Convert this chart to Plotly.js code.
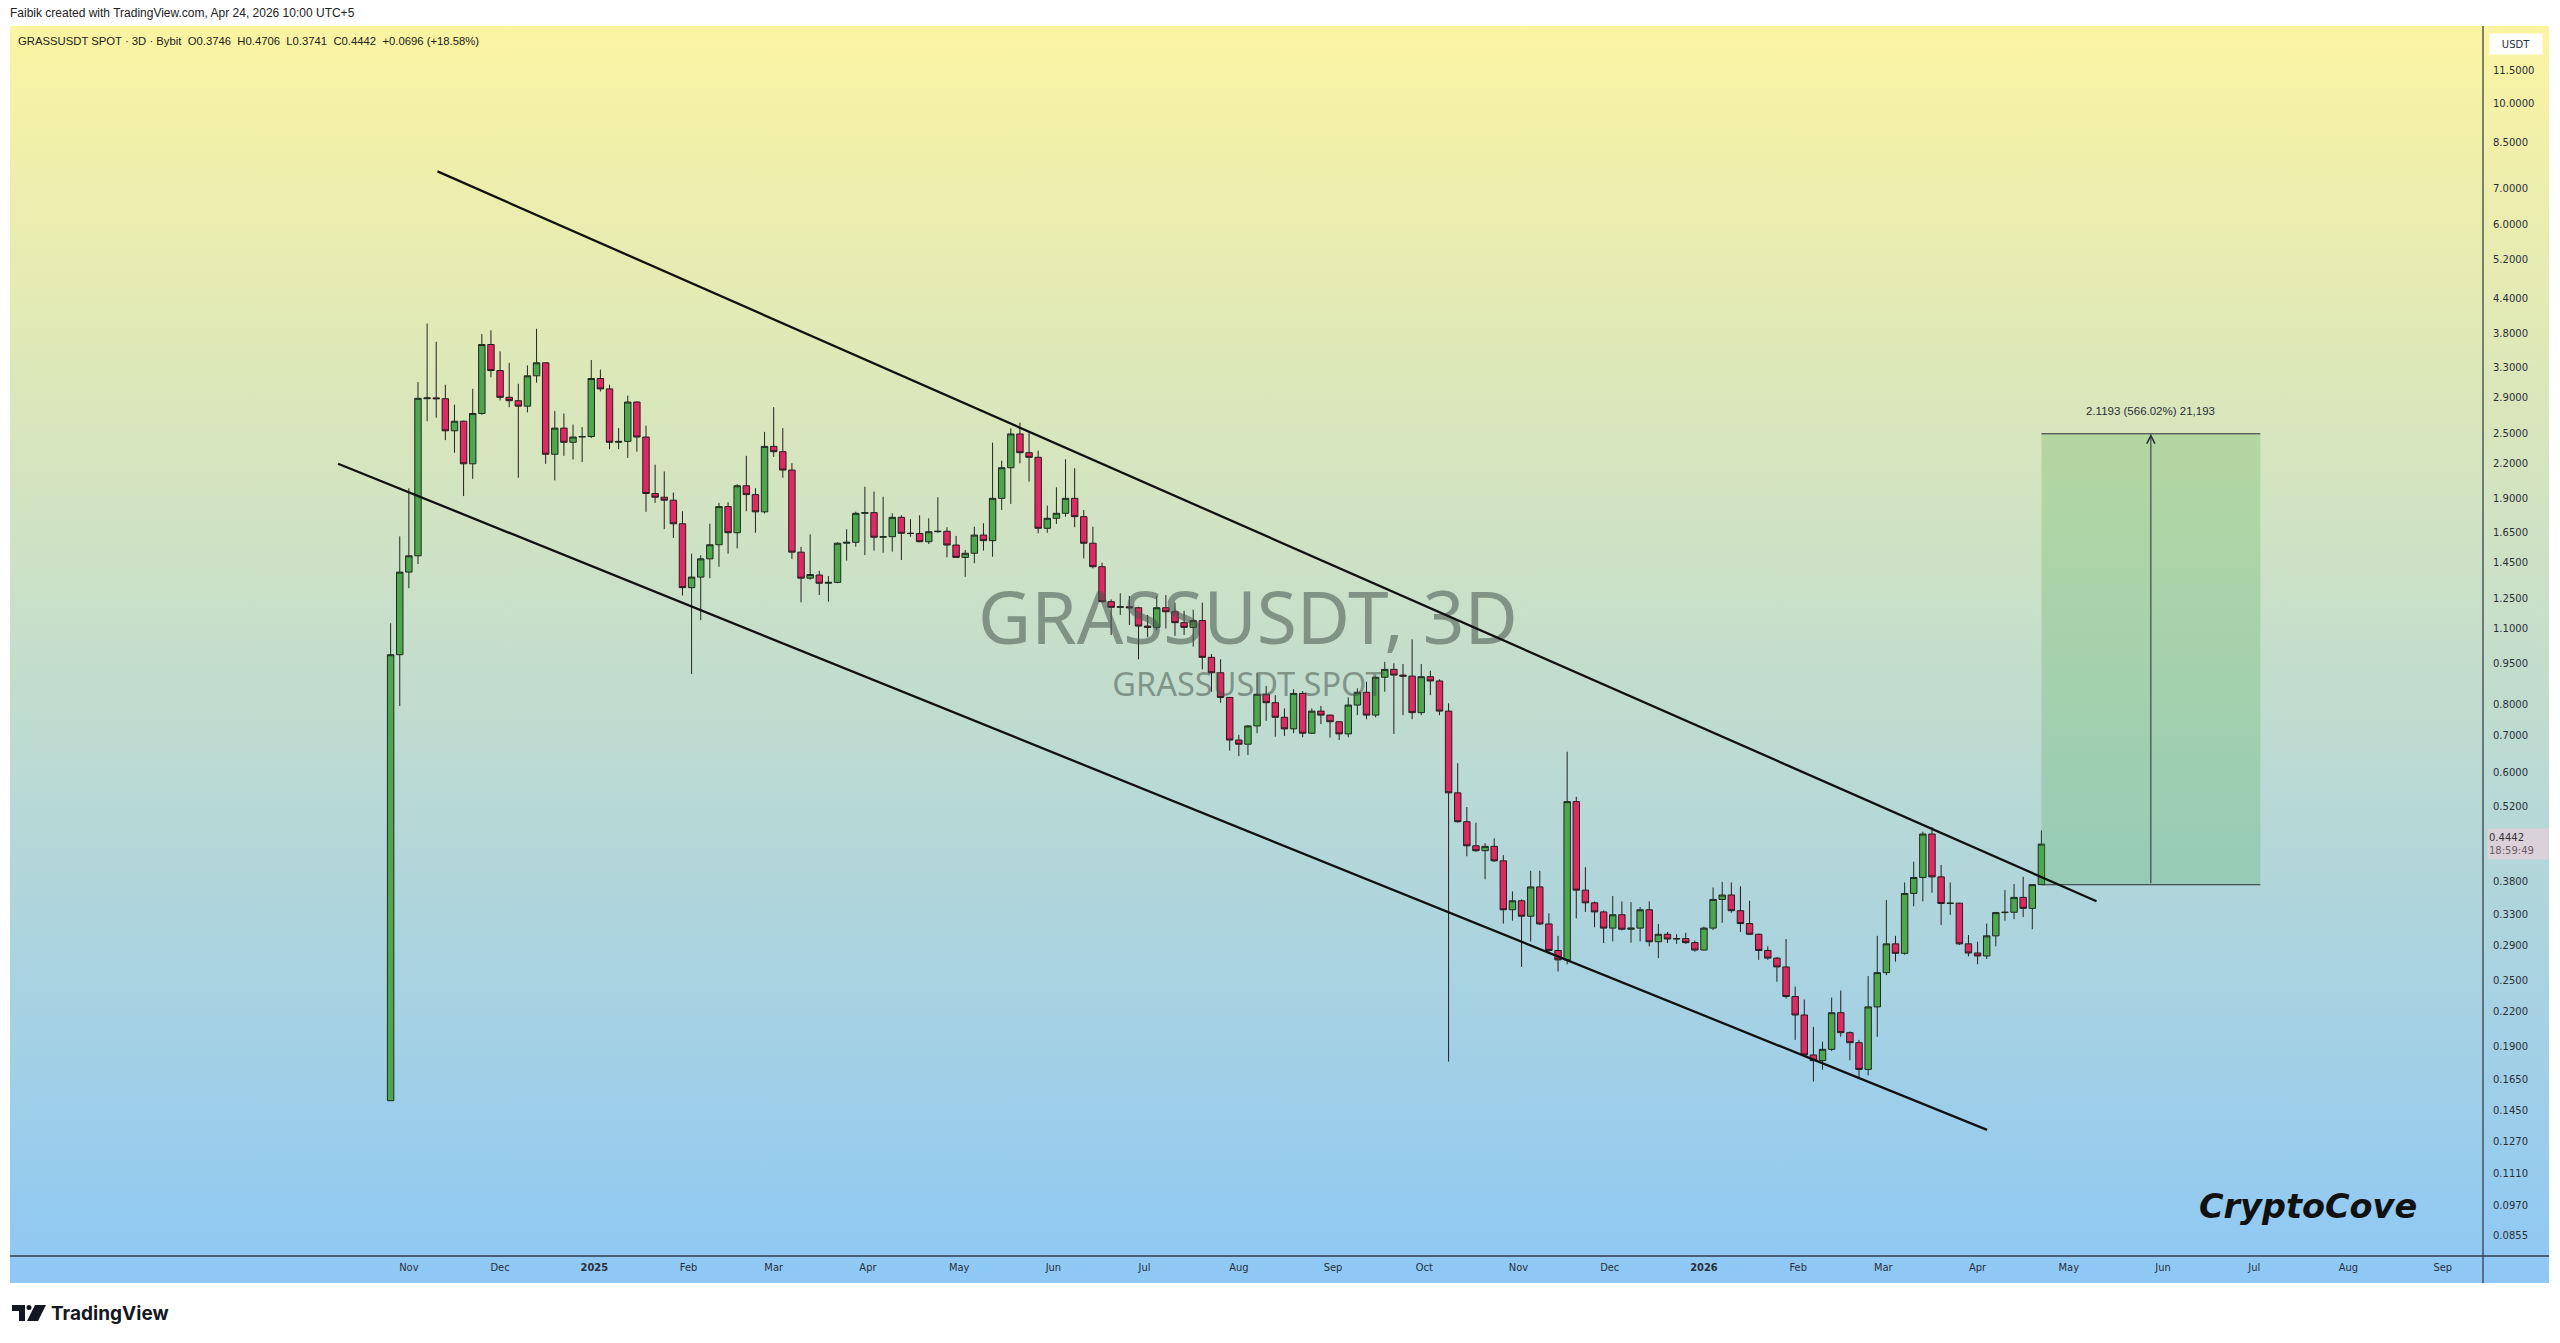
<!DOCTYPE html>
<html><head><meta charset="utf-8">
<script src="https://cdn.plot.ly/plotly-3.0.1.min.js"></script>
<style>
html,body{margin:0;padding:0;background:#fff;width:2560px;height:1343px;overflow:hidden}
#bg{position:absolute;left:10px;top:26px;width:2539px;height:1257px;background:linear-gradient(to bottom,#fbf4a2 0%,#8ec8f5 100%)}
#chart{position:absolute;left:0;top:0;width:2560px;height:1343px}
</style></head><body>
<div id="bg"></div><div id="chart"></div>
<script>
// ---------- DATA (3D candles, GRASSUSDT SPOT, Bybit) ----------
const firstCandleDate = '2024-10-26';
const candleStepDays = 3;

const opens = [0.151,0.985,1.394,1.493,2.89,2.90,2.89,2.525,2.629,2.198,
2.716,3.630,3.253,2.907,2.866,2.801,3.182,3.361,2.288,2.554,
2.406,2.460,2.465,3.146,3.012,2.406,2.415,2.850,2.460,1.940,
1.910,1.886,1.708,1.306,1.365,1.474,1.564,1.836,1.645,2.004,
1.931,1.796,2.365,2.313,2.141,1.516,1.359,1.377,1.330,1.335,
1.574,1.58,1.785,1.79,1.614,1.618,1.755,1.641,1.64,1.584,
1.652,1.655,1.562,1.483,1.509,1.629,1.591,1.901,2.162,2.492,
2.303,2.259,1.676,1.748,1.785,1.901,1.760,1.574,1.426,1.231,
1.202,1.205,1.20,1.111,1.105,1.200,1.180,1.127,1.105,1.137,
0.974,0.913,0.823,0.688,0.676,0.730,0.834,0.805,0.757,0.721,
0.837,0.708,0.777,0.764,0.743,0.706,0.797,0.841,0.764,0.896,
0.926,0.904,0.90,0.772,0.898,0.882,0.777,0.551,0.488,0.441,
0.432,0.440,0.414,0.337,0.350,0.328,0.371,0.3175,0.284,0.273,
0.531,0.366,0.347,0.334,0.312,0.330,0.3105,0.312,0.337,0.2946,
0.304,0.298,0.2985,0.2935,0.2845,0.312,0.352,0.3586,0.3357,0.318,
0.304,0.284,0.275,0.265,0.234,0.2165,0.183,0.1787,0.1874,0.2186,
0.201,0.1927,0.1722,0.224,0.2587,0.292,0.2806,0.361,0.386,0.4634,
0.387,0.346,0.3465,0.292,0.281,0.2775,0.302,0.333,0.3335,0.355,
0.339,0.3746];

const highs = [1.124,1.620,1.983,3.099,3.964,3.672,3.065,2.819,2.635,3.012,
3.794,3.853,3.527,3.361,3.078,3.324,3.878,3.37,2.746,2.716,
2.593,2.565,3.400,3.267,3.065,2.554,2.927,2.86,2.58,2.190,
2.128,1.948,1.80,1.506,1.497,1.708,1.865,1.87,2.018,2.273,
1.983,2.514,2.789,2.554,2.203,1.550,1.634,1.402,1.371,1.58,
1.669,1.797,1.996,1.955,1.914,1.785,1.77,1.741,1.77,1.748,
1.910,1.683,1.623,1.53,1.687,1.712,2.403,2.227,2.552,2.613,
2.506,2.323,1.843,1.991,2.240,2.157,1.810,1.687,1.450,1.243,
1.275,1.261,1.205,1.164,1.261,1.266,1.226,1.185,1.19,1.226,
0.988,0.966,0.825,0.703,0.733,0.913,0.864,0.831,0.786,0.852,
0.845,0.786,0.794,0.766,0.745,0.823,0.855,0.879,0.90,0.956,
0.95,0.947,1.051,0.947,0.921,0.888,0.803,0.624,0.519,0.486,
0.446,0.455,0.424,0.364,0.352,0.397,0.397,0.332,0.302,0.655,
0.542,0.403,0.349,0.336,0.357,0.349,0.348,0.341,0.349,0.3175,
0.307,0.304,0.306,0.296,0.314,0.370,0.379,0.378,0.372,0.350,
0.305,0.289,0.276,0.298,0.244,0.231,0.206,0.1935,0.233,0.240,
0.202,0.195,0.255,0.302,0.351,0.302,0.378,0.4125,0.468,0.477,
0.407,0.378,0.347,0.303,0.2946,0.318,0.334,0.366,0.3755,0.387,
0.3755,0.4706];

const lows = [0.151,0.794,1.303,1.442,2.629,2.668,2.428,2.303,1.919,2.063,
2.70,3.161,2.870,2.789,2.073,2.729,3.092,2.198,2.050,2.273,
2.238,2.214,2.45,2.979,2.338,2.338,2.253,2.313,1.796,1.865,
1.670,1.609,1.263,0.908,1.139,1.359,1.426,1.506,1.540,1.80,
1.645,1.784,2.263,2.073,1.474,1.228,1.35,1.266,1.231,1.33,
1.463,1.551,1.498,1.526,1.512,1.519,1.467,1.618,1.58,1.569,
1.645,1.483,1.48,1.367,1.447,1.526,1.487,1.810,1.857,2.202,
2.039,1.641,1.645,1.707,1.760,1.683,1.477,1.416,1.226,1.070,
1.164,1.116,0.966,1.060,1.090,1.10,1.066,1.07,1.019,0.926,
0.843,0.805,0.658,0.643,0.646,0.708,0.746,0.698,0.700,0.708,
0.696,0.706,0.736,0.695,0.688,0.696,0.764,0.751,0.757,0.843,
0.706,0.764,0.751,0.764,0.831,0.764,0.178,0.486,0.422,0.43,
0.383,0.412,0.318,0.322,0.265,0.295,0.316,0.280,0.260,0.268,
0.325,0.334,0.313,0.293,0.295,0.309,0.2935,0.295,0.289,0.275,
0.293,0.292,0.292,0.2825,0.284,0.3095,0.319,0.333,0.307,0.303,
0.273,0.273,0.249,0.232,0.195,0.182,0.1636,0.172,0.186,0.1976,
0.179,0.166,0.168,0.1976,0.256,0.271,0.279,0.342,0.349,0.362,
0.316,0.330,0.2906,0.277,0.268,0.274,0.289,0.322,0.324,0.327,
0.3105,0.3741];

const closes = [0.985,1.394,1.493,2.895,2.90,2.89,2.525,2.629,2.198,2.716,
3.630,3.253,2.907,2.866,2.801,3.182,3.361,2.288,2.554,2.406,
2.460,2.465,3.146,3.012,2.406,2.415,2.850,2.460,1.940,1.910,
1.886,1.708,1.306,1.365,1.474,1.564,1.836,1.645,2.004,1.931,
1.796,2.365,2.313,2.141,1.516,1.359,1.380,1.330,1.335,1.574,
1.58,1.785,1.79,1.614,1.618,1.755,1.641,1.64,1.584,1.652,
1.655,1.562,1.483,1.509,1.629,1.591,1.901,2.162,2.492,2.303,
2.259,1.676,1.748,1.785,1.901,1.760,1.574,1.426,1.231,1.202,
1.205,1.20,1.111,1.105,1.200,1.180,1.127,1.105,1.137,0.974,
0.913,0.823,0.688,0.676,0.730,0.834,0.805,0.757,0.721,0.837,
0.708,0.777,0.764,0.743,0.706,0.797,0.841,0.764,0.896,0.926,
0.904,0.90,0.772,0.898,0.882,0.777,0.551,0.488,0.441,0.432,
0.440,0.414,0.337,0.350,0.328,0.371,0.3175,0.284,0.273,0.531,
0.366,0.347,0.334,0.312,0.330,0.3105,0.312,0.337,0.2946,0.304,
0.298,0.2985,0.2935,0.2845,0.312,0.352,0.3586,0.3357,0.318,0.304,
0.284,0.275,0.265,0.234,0.2165,0.183,0.1787,0.1874,0.2186,0.201,
0.1927,0.1722,0.224,0.2587,0.292,0.2806,0.361,0.386,0.4634,0.387,
0.346,0.3465,0.292,0.281,0.2775,0.302,0.333,0.3335,0.355,0.339,
0.3746,0.4442];

// channel trend lines [start, end]
const upperLineDates = ['2024-11-10 10:00', '2026-05-10 03:00'];
const upperLinePrices = [7.516, 0.3492];
const lowerLineDates = ['2024-10-08 17:00', '2026-04-04 03:00'];
const lowerLinePrices = [2.199, 0.1336];

// price range measurement
const rangeDates = ['2026-04-22', '2026-07-03'];
const rangeMidDate = '2026-05-28';
const rangeLow = 0.3744, rangeHigh = 2.4937;
const rangeLabel = '2.1193 (566.02%) 21,193';

// axis ticks
const priceTicks = [0.0855,0.097,0.111,0.127,0.145,0.165,0.19,0.22,0.25,0.29,0.33,0.38,0.52,0.6,0.7,0.8,0.95,1.1,1.25,1.45,1.65,1.9,2.2,2.5,2.9,3.3,3.8,4.4,5.2,6,7,8.5,10,11.5];
const monthTickDates = ['2024-11-01','2024-12-01','2025-01-01','2025-02-01','2025-03-01','2025-04-01','2025-05-01','2025-06-01','2025-07-01','2025-08-01','2025-09-01','2025-10-01','2025-11-01','2025-12-01','2026-01-01','2026-02-01','2026-03-01','2026-04-01','2026-05-01','2026-06-01','2026-07-01','2026-08-01','2026-09-01'];
const monthTickLabels = ['Nov','Dec','<b>2025</b>','Feb','Mar','Apr','May','Jun','Jul','Aug','Sep','Oct','Nov','Dec','<b>2026</b>','Feb','Mar','Apr','May','Jun','Jul','Aug','Sep'];

const countdown = '18:59:49';
const headerText = 'Faibik created with TradingView.com, Apr 24, 2026 10:00 UTC+5';
const watermarkDate = '2025-08-04';
const watermarkPrices = [1.112, 0.856];
const watermarkTexts = ['GRASSUSDT, 3D', 'GRASSUSDT SPOT'];

// ---------- BUILD ----------
const dates = opens.map((_, i) => {
  const d = new Date(Date.parse(firstCandleDate + 'T00:00:00Z') + i * candleStepDays * 86400000);
  return d.toISOString().slice(0, 10);
});

const PLOT_L = 10, PLOT_R = 2483, PLOT_T = 26, PLOT_B = 1256;
const PX = x => (x - PLOT_L) / (PLOT_R - PLOT_L);
const PY = y => (PLOT_B - y) / (PLOT_B - PLOT_T);
const log = Math.log10;
const NB = '\u00a0';

const n = closes.length;
const lastO = opens[n-1], lastH = highs[n-1], lastL = lows[n-1], lastC = closes[n-1], prevC = closes[n-2];
const chg = lastC - prevC;
const legendText = 'GRASSUSDT SPOT · 3D · Bybit' + NB + NB + 'O' + lastO.toFixed(4) + NB + NB + 'H' + lastH.toFixed(4) + NB + NB + 'L' + lastL.toFixed(4) + NB + NB + 'C' + lastC.toFixed(4) + NB + NB + '+' + chg.toFixed(4) + ' (+' + (chg / prevC * 100).toFixed(2) + '%)';

const traces = [
  {
    type: 'scatter', mode: 'text', x: [watermarkDate, watermarkDate], y: watermarkPrices,
    text: watermarkTexts, textposition: 'middle center', cliponaxis: false, hoverinfo: 'skip',
    textfont: {family: 'Noto Sans, Open Sans, sans-serif', size: [73, 32.5], color: 'rgba(70,84,76,0.55)'},
    showlegend: false
  },
  {
    type: 'scatter', mode: 'lines', x: [rangeDates[0], rangeDates[1], rangeDates[1], rangeDates[0], rangeDates[0]],
    y: [rangeLow, rangeLow, rangeHigh, rangeHigh, rangeLow], fill: 'toself',
    fillcolor: 'rgba(76,175,80,0.26)', line: {width: 0}, hoverinfo: 'skip', showlegend: false
  },
  {
    type: 'scatter', mode: 'lines', x: [rangeDates[0], rangeDates[1], null, rangeDates[0], rangeDates[1]],
    y: [rangeHigh, rangeHigh, null, rangeLow, rangeLow], line: {color: '#2a2e39', width: 1},
    hoverinfo: 'skip', showlegend: false
  },
  {
    type: 'candlestick', x: dates, open: opens, high: highs, low: lows, close: closes,
    increasing: {line: {color: '#1f2a20', width: 1}, fillcolor: '#4ea64f'},
    decreasing: {line: {color: '#2a1c20', width: 1}, fillcolor: '#dc2a62'},
    whiskerwidth: 0, hoverinfo: 'skip', showlegend: false
  },
  {
    type: 'scatter', mode: 'lines',
    x: [upperLineDates[0], upperLineDates[1], null, lowerLineDates[0], lowerLineDates[1]],
    y: [upperLinePrices[0], upperLinePrices[1], null, lowerLinePrices[0], lowerLinePrices[1]],
    line: {color: '#111111', width: 2.3}, hoverinfo: 'skip', showlegend: false, cliponaxis: false
  }
];

const logoT = [[12,1305],[25,1305],[25,1321],[19,1321],[19,1311],[12,1311]];
const logoS = [[35,1305],[46,1305],[38,1321],[27,1321]];
const toPath = pts => 'M' + pts.map(p => PX(p[0]) + ',' + PY(p[1])).join(' L') + ' Z';

const layout = {
  width: 2560, height: 1343,
  margin: {l: PLOT_L, r: 2560 - PLOT_R, t: PLOT_T, b: 1343 - PLOT_B, pad: 0},
  paper_bgcolor: 'rgba(0,0,0,0)', plot_bgcolor: 'rgba(0,0,0,0)',
  font: {family: 'DejaVu Sans, sans-serif', color: '#2a2e39'},
  showlegend: false,
  boxgap: 0.15, boxgroupgap: 0.17,
  xaxis: {
    type: 'date', range: ['2024-06-22 19:12', '2026-09-14 06:00'],
    rangeslider: {visible: false}, showgrid: false, zeroline: false, showline: false,
    tickmode: 'array', tickvals: monthTickDates, ticktext: monthTickLabels, ticks: '',
    tickfont: {family: 'DejaVu Sans Condensed, Liberation Sans Narrow, DejaVu Sans, sans-serif', size: 11, color: '#2a2e39'},
    ticklabelstandoff: 3, fixedrange: true
  },
  yaxis: {
    type: 'log', side: 'right', range: [-1.10464, 1.14153],
    showgrid: false, zeroline: false, showline: false,
    tickmode: 'array', tickvals: priceTicks, ticktext: priceTicks.map(v => v.toFixed(4)), ticks: '',
    tickfont: {family: 'DejaVu Sans, sans-serif', size: 10, color: '#2a2e39'},
    ticklabelstandoff: 9, fixedrange: true
  },
  shapes: [
    {type: 'line', xref: 'paper', yref: 'paper', x0: 0, x1: PX(2549), y0: 0, y1: 0, line: {color: '#2e3d52', width: 1.5}},
    {type: 'line', xref: 'paper', yref: 'paper', x0: 1, x1: 1, y0: PY(1283), y1: 1, line: {color: '#2e3440', width: 1.2}},
    {type: 'path', xref: 'paper', yref: 'paper', path: toPath(logoT), fillcolor: '#131722', line: {width: 0}},
    {type: 'path', xref: 'paper', yref: 'paper', path: toPath(logoS), fillcolor: '#131722', line: {width: 0}},
    {type: 'circle', xref: 'paper', yref: 'paper', x0: PX(26.5), x1: PX(31.5), y0: PY(1310), y1: PY(1305), fillcolor: '#131722', line: {width: 0}}
  ],
  annotations: [
    {xref: 'paper', yref: 'paper', x: PX(8), y: PY(13), xanchor: 'left', yanchor: 'middle', showarrow: false,
     text: headerText, font: {family: 'Liberation Sans, Arial, sans-serif', size: 12, color: '#222'}},
    {xref: 'paper', yref: 'paper', x: PX(16), y: PY(41), xanchor: 'left', yanchor: 'middle', showarrow: false,
     text: legendText, font: {family: 'Liberation Sans, Arial, sans-serif', size: 11.3, color: '#222'}},
    {xref: 'paper', yref: 'paper', x: PX(2516), y: PY(43.5), xanchor: 'center', yanchor: 'middle', showarrow: false,
     text: 'USDT', bgcolor: '#ffffff', width: 50, height: 18, font: {size: 10, color: '#2a2e39'}},
    {xref: 'paper', yref: 'y', x: PX(2487), y: log(lastC), xanchor: 'left', yanchor: 'middle', showarrow: false,
     align: 'left', text: lastC.toFixed(4) + '<br><span style="color:#6e5c68">' + countdown + '</span>',
     bgcolor: '#dbd1d9', width: 58, height: 28, font: {size: 10, color: '#333'}},
    {xref: 'x', yref: 'y', x: rangeMidDate, y: log(rangeHigh), xanchor: 'center', yanchor: 'bottom', yshift: 15,
     showarrow: false, text: rangeLabel, font: {family: 'Liberation Sans, Arial, sans-serif', size: 11.5, color: '#2a2e39'}},
    {xref: 'x', yref: 'y', x: rangeMidDate, y: log(rangeHigh), axref: 'x', ayref: 'y', ax: rangeMidDate, ay: log(rangeLow),
     text: '', showarrow: true, arrowhead: 5, arrowsize: 1.6, arrowwidth: 1, arrowcolor: '#2a2e39', standoff: 0},
    {xref: 'paper', yref: 'paper', x: PX(2308), y: PY(1206), xanchor: 'center', yanchor: 'middle', showarrow: false,
     text: '<b><i>CryptoCove</i></b>', font: {family: 'DejaVu Sans, sans-serif', size: 33.5, color: '#111'}},
    {xref: 'paper', yref: 'paper', x: PX(49), y: PY(1313), xanchor: 'left', yanchor: 'middle', showarrow: false,
     text: '<b>TradingView</b>', font: {family: 'Inter, Roboto, sans-serif', size: 19, color: '#131722'}}
  ]
};

Plotly.newPlot('chart', traces, layout, {displayModeBar: false, staticPlot: true});
</script></body></html>
